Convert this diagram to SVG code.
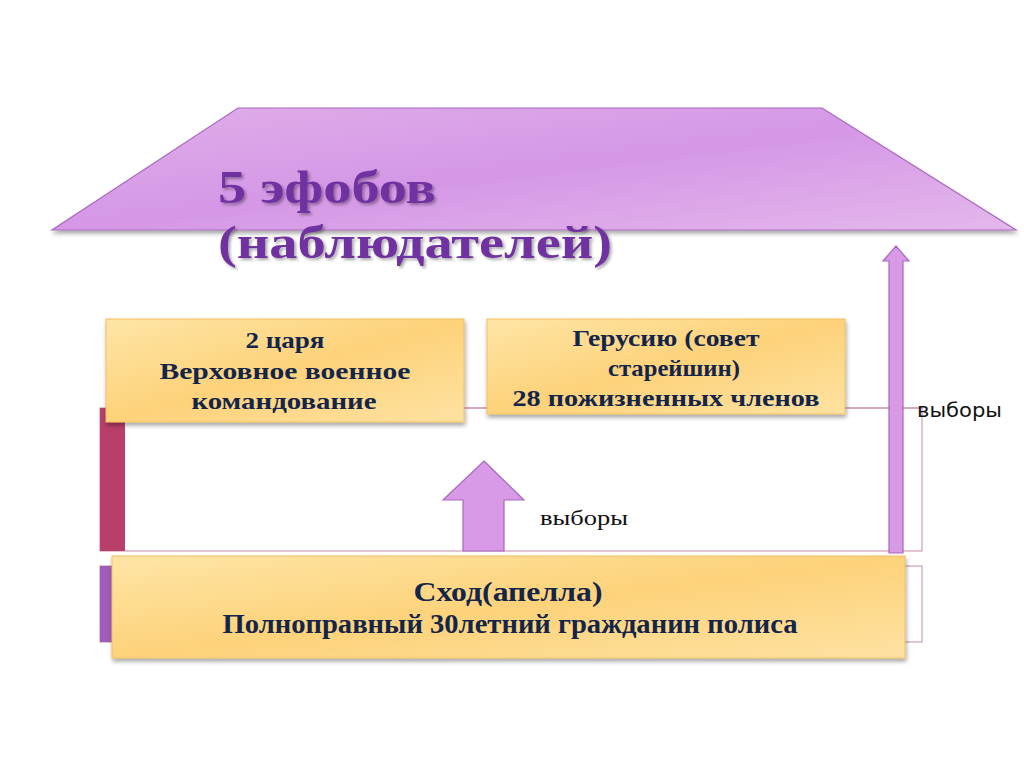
<svg xmlns="http://www.w3.org/2000/svg" width="1024" height="767" viewBox="0 0 1024 767">
<defs>
<linearGradient id="roof" x1="0" y1="0" x2="1" y2="1">
<stop offset="0" stop-color="#e0aee9"/><stop offset="0.5" stop-color="#d597e6"/><stop offset="1" stop-color="#e4b8ec"/>
</linearGradient>
<linearGradient id="gold" x1="0" y1="0" x2="1" y2="1">
<stop offset="0" stop-color="#fee5a6"/><stop offset="0.5" stop-color="#fdd27a"/><stop offset="1" stop-color="#fee2a2"/>
</linearGradient>
<filter id="sh" x="-5%" y="-10%" width="110%" height="130%">
<feDropShadow dx="1" dy="3" stdDeviation="2" flood-color="#000" flood-opacity="0.35"/>
</filter>
<filter id="tsh" x="-5%" y="-10%" width="110%" height="130%">
<feDropShadow dx="2" dy="2" stdDeviation="1.5" flood-color="#000" flood-opacity="0.35"/>
</filter>
<style>
.box{fill:url(#gold);stroke:#f2c060;stroke-width:1;filter:url(#sh)}
.bt{font-family:"Liberation Serif","DejaVu Serif",serif;font-weight:bold;font-size:23px;fill:#14254a;text-anchor:middle}
.ct{font-family:"Liberation Serif","DejaVu Serif",serif;font-weight:bold;font-size:28px;fill:#14254a;text-anchor:middle}
.tt{font-family:"Liberation Serif",serif;font-weight:bold;font-size:46px;fill:#7030a0;filter:url(#tsh)}
.thin{fill:none;stroke:#c58aa8;stroke-width:1}
.arr{fill:#d89ae6;stroke:#a868bd;stroke-width:1.2}
</style>
</defs>
<rect width="1024" height="767" fill="#fff"/>
<g id="frame">
<rect x="100" y="408" width="822" height="143" class="thin"/>
<rect x="100" y="408" width="25" height="143" fill="#b83f6b"/>
<rect x="100" y="566" width="822" height="76" class="thin"/>
<rect x="100" y="566" width="12" height="76" fill="#a05cb8"/>
</g>
<g id="roof">
<polygon points="238,108 822,108 1016,230 52,230" fill="url(#roof)" stroke="#a96bbd" stroke-width="1.2" filter="url(#sh)"/>
<text class="tt" x="218" y="203" textLength="218" lengthAdjust="spacingAndGlyphs">5 эфобов</text>
<text class="tt" x="218" y="258" textLength="394" lengthAdjust="spacingAndGlyphs">(наблюдателей)</text>
</g>
<g id="kings">
<rect x="106" y="319" width="358" height="103" class="box"/>
<text class="bt" x="285" y="348" textLength="79" lengthAdjust="spacingAndGlyphs">2 царя</text>
<text class="bt" x="285" y="379" textLength="251" lengthAdjust="spacingAndGlyphs">Верховное  военное</text>
<text class="bt" x="284" y="409" textLength="185" lengthAdjust="spacingAndGlyphs">командование</text>
</g>
<g id="gerousia">
<rect x="487" y="319" width="358" height="95" class="box"/>
<text class="bt" x="666" y="346" textLength="187" lengthAdjust="spacingAndGlyphs">Герусию (совет</text>
<text class="bt" x="674" y="376" textLength="132" lengthAdjust="spacingAndGlyphs">старейшин)</text>
<text class="bt" x="666" y="406" textLength="307" lengthAdjust="spacingAndGlyphs">28 пожизненных членов</text>
</g>
<g id="connectors">
<line x1="464" y1="408" x2="487" y2="408" class="thin"/>
<line x1="845" y1="408" x2="922" y2="408" class="thin"/>
<path class="arr" d="M484,461 L524,500 L504,500 L504,551 L463,551 L463,500 L443,500 Z"/>
<path class="arr" d="M896,246 L909,261 L903,261 L903,553 L889,553 L889,261 L883,261 Z"/>
<text x="540" y="525" font-family="Liberation Serif,serif" font-size="22" fill="#111" textLength="88" lengthAdjust="spacingAndGlyphs">выборы</text>
<text x="917" y="417" font-family="DejaVu Sans,sans-serif" font-size="20" fill="#111" textLength="85" lengthAdjust="spacingAndGlyphs">выборы</text>
</g>
<g id="apella">
<rect x="112" y="556" width="793" height="102" class="box"/>
<text class="ct" x="508" y="601" textLength="189" lengthAdjust="spacingAndGlyphs">Сход(апелла)</text>
<text class="ct" x="510" y="633" textLength="575" lengthAdjust="spacingAndGlyphs">Полноправный  30летний  гражданин полиса</text>
</g>
</svg>
